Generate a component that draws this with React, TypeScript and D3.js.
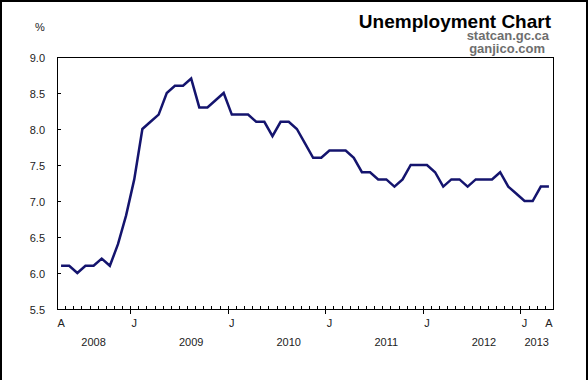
import React, { useEffect, useRef } from 'react';
import * as d3 from 'd3';

// monthly unemployment rate, Apr 2008 - Apr 2013
const rate2008 = [6.1, 6.1, 6.0, 6.1, 6.1, 6.2, 6.1, 6.4, 6.8]; // Apr-Dec
const rate2009 = [7.3, 8.0, 8.1, 8.2, 8.5, 8.6, 8.6, 8.7, 8.3, 8.3, 8.4, 8.5];
const rate2010 = [8.2, 8.2, 8.2, 8.1, 8.1, 7.9, 8.1, 8.1, 8.0, 7.8, 7.6, 7.6];
const rate2011 = [7.7, 7.7, 7.7, 7.6, 7.4, 7.4, 7.3, 7.3, 7.2, 7.3, 7.5, 7.5];
const rate2012 = [7.5, 7.4, 7.2, 7.3, 7.3, 7.2, 7.3, 7.3, 7.3, 7.4, 7.2, 7.1];
const rate2013 = [7.0, 7.0, 7.2, 7.2]; // Jan-Apr

const years = ['2008', '2009', '2010', '2011', '2012', '2013'];
const yearSeries = [rate2008, rate2009, rate2010, rate2011, rate2012, rate2013];
const firstMonth = [3, 0, 0, 0, 0, 0]; // month index of first value in each year
const monthLetters = ['J', 'F', 'M', 'A', 'M', 'J', 'J', 'A', 'S', 'O', 'N', 'D'];
const yTicks = [5.5, 6.0, 6.5, 7.0, 7.5, 8.0, 8.5, 9.0];

type Pt = { year: string; month: number; value: number; i: number };

const App = () => {
  const ref = useRef<SVGSVGElement | null>(null);

  useEffect(() => {
    if (!ref.current) return;
    const svg = d3.select(ref.current);
    svg.selectAll('*').remove();

    const W = 588;
    const H = 380;
    const plot = { left: 57, top: 57, right: 553, bottom: 309 };
    const font = 'Arial, "Liberation Sans", sans-serif';

    const data: Pt[] = [];
    yearSeries.forEach((vals, yi) => {
      vals.forEach((v, k) => {
        data.push({ year: years[yi], month: firstMonth[yi] + k, value: v, i: data.length });
      });
    });

    svg.append('rect').attr('width', W).attr('height', H).attr('fill', '#fff');
    // outer frame
    svg.append('path')
      .attr('d', `M1,${H} V1 H${W - 1} V${H}`)
      .attr('fill', 'none')
      .attr('stroke', '#000')
      .attr('stroke-width', 2);

    const x = d3.scaleBand<number>()
      .domain(data.map(d => d.i))
      .range([plot.left, plot.right]);
    const cx = (i: number) => (x(i) as number) + x.bandwidth() / 2;

    const y = d3.scaleLinear().domain([5.5, 9.0]).range([plot.bottom, plot.top]);

    // plot box
    svg.append('rect')
      .attr('x', plot.left + 0.5)
      .attr('y', plot.top + 0.5)
      .attr('width', plot.right - plot.left)
      .attr('height', plot.bottom - plot.top)
      .attr('fill', 'none')
      .attr('stroke', '#000')
      .attr('stroke-width', 1);

    // y ticks + labels
    const yg = svg.append('g');
    yTicks.forEach(t => {
      const yy = Math.round(y(t)) + 0.5;
      yg.append('line')
        .attr('x1', plot.left).attr('x2', plot.left + 4)
        .attr('y1', yy).attr('y2', yy)
        .attr('stroke', '#000');
      yg.append('text')
        .attr('x', 45).attr('y', yy + 4)
        .attr('text-anchor', 'end')
        .style('font-family', font).style('font-size', '11px').style('fill', '#222')
        .text(d3.format('.1f')(t));
    });

    // monthly ticks on the x axis (month boundaries)
    const xg = svg.append('g');
    data.slice(1).forEach(d => {
      const xx = Math.round(x(d.i) as number) + 0.5;
      const major = d.month === 0;
      xg.append('line')
        .attr('x1', xx).attr('x2', xx)
        .attr('y1', plot.bottom - 3).attr('y2', major ? plot.bottom + 5 : plot.bottom)
        .attr('stroke', '#000');
    });

    // month letters: first point, each January, last point
    const last = data[data.length - 1];
    data.filter(d => d.i === 0 || d.month === 0 || d.i === last.i).forEach(d => {
      xg.append('text')
        .attr('x', cx(d.i)).attr('y', 327)
        .attr('text-anchor', 'middle')
        .style('font-family', font).style('font-size', '11px').style('fill', '#222')
        .text(monthLetters[d.month]);
    });

    // year labels
    years.forEach(yr => {
      const pts = data.filter(d => d.year === yr);
      const full = pts.length === 12;
      const xx = full ? cx(pts[7].i) : (pts.length < 9 && pts[0].month === 0
        ? (cx(pts[0].i) + cx(pts[pts.length - 1].i)) / 2
        : cx(pts[Math.min(4, pts.length - 1)].i));
      xg.append('text')
        .attr('x', xx).attr('y', 346)
        .attr('text-anchor', 'middle')
        .style('font-family', font).style('font-size', '11px').style('fill', '#222')
        .text(yr);
    });

    // line
    const line = d3.line<Pt>()
      .x(d => cx(d.i))
      .y(d => y(d.value));
    svg.append('path')
      .datum(data)
      .attr('d', line)
      .attr('fill', 'none')
      .attr('stroke', '#14146e')
      .attr('stroke-width', 2.5)
      .attr('stroke-linejoin', 'miter');

    // titles
    svg.append('text')
      .attr('x', 40).attr('y', 31)
      .attr('text-anchor', 'middle')
      .style('font-family', font).style('font-size', '11px').style('fill', '#222')
      .text('%');
    svg.append('text')
      .attr('x', 551).attr('y', 28)
      .attr('text-anchor', 'end')
      .style('font-family', font).style('font-size', '19px').style('font-weight', 'bold').style('fill', '#000')
      .text('Unemployment Chart');
    svg.append('text')
      .attr('x', 549).attr('y', 40)
      .attr('text-anchor', 'end')
      .style('font-family', font).style('font-size', '13px').style('font-weight', 'bold').style('fill', '#6e6e6e')
      .text('statcan.gc.ca');
    svg.append('text')
      .attr('x', 545).attr('y', 53)
      .attr('text-anchor', 'end')
      .style('font-family', font).style('font-size', '13px').style('font-weight', 'bold').style('fill', '#6e6e6e')
      .text('ganjico.com');
  }, []);

  return (
    <svg
      ref={ref}
      width={588}
      height={380}
      style={{ position: 'absolute', left: 0, top: 0, display: 'block' }}
    />
  );
};

export default App;
